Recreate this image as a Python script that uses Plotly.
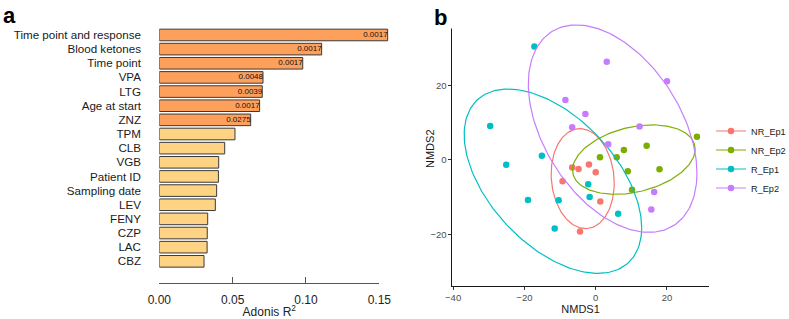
import numpy as np
import plotly.graph_objects as go

W, H = 789, 319

# ---------------- data: panel a ----------------
VARIABLES = ["Time point and response", "Blood ketones", "Time point", "VPA", "LTG",
             "Age at start", "ZNZ", "TPM", "CLB", "VGB", "Patient ID", "Sampling date",
             "LEV", "FENY", "CZP", "LAC", "CBZ"]
ADONIS_R2 = [0.1557, 0.1107, 0.0978, 0.0707, 0.0702, 0.0684, 0.0623, 0.0516, 0.0446,
             0.0405, 0.0403, 0.0391, 0.0382, 0.0330, 0.0327, 0.0326, 0.0305]
P_VALUES = ["0.0017", "0.0017", "0.0017", "0.0048", "0.0039", "0.0017", "0.0275",
            "", "", "", "", "", "", "", "", "", ""]
R2_TICKS = [0.0, 0.05, 0.10, 0.15]
R2_TICK_TEXT = ["0.00", "0.05", "0.10", "0.15"]

# ---------------- data: panel b ----------------
GROUPS = ["NR_Ep1", "NR_Ep2", "R_Ep1", "R_Ep2"]
NR_EP1_X = [-6.6, -4.8, -1.9, 0.0, -9.3, 1.3, -4.4]
NR_EP1_Y = [-2.0, -2.4, -1.2, -3.3, -5.7, -11.1, -19.2]
NR_EP2_X = [1.2, 5.9, 7.9, 14.3, 28.4, 9.0, 17.9, 10.2]
NR_EP2_Y = [0.7, 0.7, 2.7, 3.8, 6.2, -3.0, -2.5, -8.0]
R_EP1_X = [-17.2, -29.6, -15.1, -25.1, -19.0, -10.4, -11.5, -2.1, -1.7, 6.3]
R_EP1_Y = [30.4, 9.1, 1.1, -1.3, -10.7, -10.8, -18.4, -6.5, -9.9, -14.4]
R_EP2_X = [-8.5, -6.6, 3.1, 20.0, -2.9, 12.3, 3.5, 16.4, 15.6]
R_EP2_Y = [16.1, 8.8, 26.3, 21.1, 12.3, 9.0, 4.2, -8.6, -13.3]
# 95% ellipse summaries per group: centre, half-extent in x / y, correlation
ELL_CX = [-3.65, 10.7, -12.0, 4.75]
ELL_CY = [-5.0, 0.1, -5.7, 8.4]
ELL_HX = [8.85, 17.2, 24.9, 23.65]
ELL_HY = [13.4, 9.3, 24.7, 27.8]
ELL_RHO = [-0.09, 0.30, -0.506, -0.43]
NMDS1_TICKS = [-40, -20, 0, 20]
NMDS2_TICKS = [-20, 0, 20]

GROUP_COLORS = ["#F8766D", "#7CAE00", "#00BFC4", "#C77CFF"]
FONT = "Liberation Sans, Arial, sans-serif"

BAR_RIGHT_PX = 400.0  # right end of the bar drawing area
R2_PX0, R2_PX15 = 159.3, 379.3


def fx(px):
    return px / W


def fy(py):
    return 1 - py / H


fig = go.Figure()

bar_colors = ["#FDA05C" if p else "#FFD384" for p in P_VALUES]
fig.add_trace(go.Bar(
    y=VARIABLES, x=ADONIS_R2, orientation="h",
    marker=dict(color=bar_colors, line=dict(color="#3a3a3a", width=1)),
    width=0.82, showlegend=False, hoverinfo="skip",
    xaxis="x", yaxis="y"))
fig.add_trace(go.Scatter(
    y=VARIABLES, x=ADONIS_R2, mode="text", text=P_VALUES,
    textposition="middle left", textfont=dict(size=8, color="#111111", family=FONT),
    showlegend=False, hoverinfo="skip", xaxis="x", yaxis="y"))
# carrier for the visible R2 axis (0 .. 0.15)
fig.add_trace(go.Scatter(
    y=[VARIABLES[-1]], x=[R2_TICKS[0]], mode="markers", marker=dict(opacity=0),
    showlegend=False, hoverinfo="skip", xaxis="x3", yaxis="y"))

point_sets = [(NR_EP1_X, NR_EP1_Y), (NR_EP2_X, NR_EP2_Y), (R_EP1_X, R_EP1_Y), (R_EP2_X, R_EP2_Y)]
t = np.linspace(0, 2 * np.pi, 200)
for i, g in enumerate(GROUPS):
    col = GROUP_COLORS[i]
    xs, ys = point_sets[i]
    fig.add_trace(go.Scatter(x=xs, y=ys, mode="markers",
                             marker=dict(color=col, size=6.5), showlegend=False,
                             xaxis="x2", yaxis="y2"))
    d = np.arccos(ELL_RHO[i])
    ex = ELL_CX[i] + ELL_HX[i] * np.cos(t)
    ey = ELL_CY[i] + ELL_HY[i] * np.cos(t - d)
    fig.add_trace(go.Scatter(x=ex, y=ey, mode="lines",
                             line=dict(color=col, width=1.2), showlegend=False,
                             xaxis="x2", yaxis="y2"))
for i, g in enumerate(GROUPS):
    fig.add_trace(go.Scatter(x=[None], y=[None], mode="lines+markers", name=g,
                             line=dict(color=GROUP_COLORS[i], width=1.2),
                             marker=dict(color=GROUP_COLORS[i], size=6.5),
                             xaxis="x2", yaxis="y2"))

bar_xmax = 0.15 * (BAR_RIGHT_PX - R2_PX0) / (R2_PX15 - R2_PX0)

fig.update_layout(
    width=W, height=H, autosize=False,
    margin=dict(l=0, r=0, t=0, b=0, autoexpand=False),
    paper_bgcolor="white", plot_bgcolor="rgba(0,0,0,0)",
    font=dict(family=FONT, color="#1a1a1a"),
    xaxis=dict(domain=[fx(R2_PX0), fx(BAR_RIGHT_PX)], range=[0, bar_xmax], anchor="y",
               visible=False, automargin=False),
    xaxis3=dict(domain=[fx(R2_PX0), fx(R2_PX15)], range=[0, 0.15], anchor="free",
                position=fy(283.3), showline=True, linecolor="#555555",
                linewidth=1, ticks="inside", ticklen=6, tickcolor="#555555", tickwidth=1,
                tickvals=R2_TICKS, ticktext=R2_TICK_TEXT, ticklabelstandoff=5,
                tickfont=dict(size=12, color="#222222"), showgrid=False, zeroline=False,
                automargin=False,
                title=dict(text="Adonis R<sup>2</sup>", font=dict(size=12, color="#222222"),
                           standoff=5)),
    yaxis=dict(domain=[fy(268.4), fy(27.9)], type="category", categoryorder="array",
               categoryarray=VARIABLES, range=[16.5, -0.5], anchor="x",
               showline=False, showgrid=False, zeroline=False, automargin=False,
               ticks="outside", ticklen=15, tickcolor="rgba(0,0,0,0)",
               tickfont=dict(size=11.6, color="#1a1a1a")),
    xaxis2=dict(domain=[fx(452.4), fx(708.7)], range=[-40.2, 31.7], anchor="y2",
                showline=True, linecolor="#1a1a1a", linewidth=1, ticks="outside",
                ticklen=3, tickcolor="#333333", tickvals=NMDS1_TICKS, automargin=False,
                tickfont=dict(size=9.5, color="#4d4d4d"), showgrid=False, zeroline=False,
                title=dict(text="NMDS1", font=dict(size=11, color="#1a1a1a"), standoff=3)),
    yaxis2=dict(domain=[fy(285.7), fy(12.6)], range=[-33.7, 39.5], anchor="x2",
                showline=True, linecolor="#1a1a1a", linewidth=1, ticks="outside",
                ticklen=3, tickcolor="#333333", tickvals=NMDS2_TICKS, automargin=False,
                tickfont=dict(size=9.5, color="#4d4d4d"), showgrid=False, zeroline=False),
    legend=dict(x=fx(711), y=fy(116.5), xanchor="left", yanchor="top",
                font=dict(size=9.2, color="#1a1a1a"), bgcolor="rgba(0,0,0,0)",
                tracegroupgap=0),
    annotations=[
        dict(text="<b>a</b>", x=fx(1), y=fy(1), xref="paper", yref="paper",
             xanchor="left", yanchor="top", showarrow=False,
             font=dict(size=22, color="#000000")),
        dict(text="<b>b</b>", x=fx(433), y=fy(4), xref="paper", yref="paper",
             xanchor="left", yanchor="top", showarrow=False, width=34, height=23,
             align="left", valign="top", bgcolor="white", borderpad=0,
             font=dict(size=22, color="#000000")),
        dict(text="NMDS2", x=fx(430), y=fy(149), xref="paper", yref="paper",
             xanchor="center", yanchor="middle", showarrow=False, textangle=-90,
             font=dict(size=11, color="#1a1a1a")),
    ],
)

fig.write_html(
    "out.html",
    config={"displayModeBar": False, "responsive": False},
    post_script=("document.body.style.margin='0px';"
                 "document.body.style.overflow='hidden';"
                 "document.documentElement.style.overflow='hidden';"),
)
